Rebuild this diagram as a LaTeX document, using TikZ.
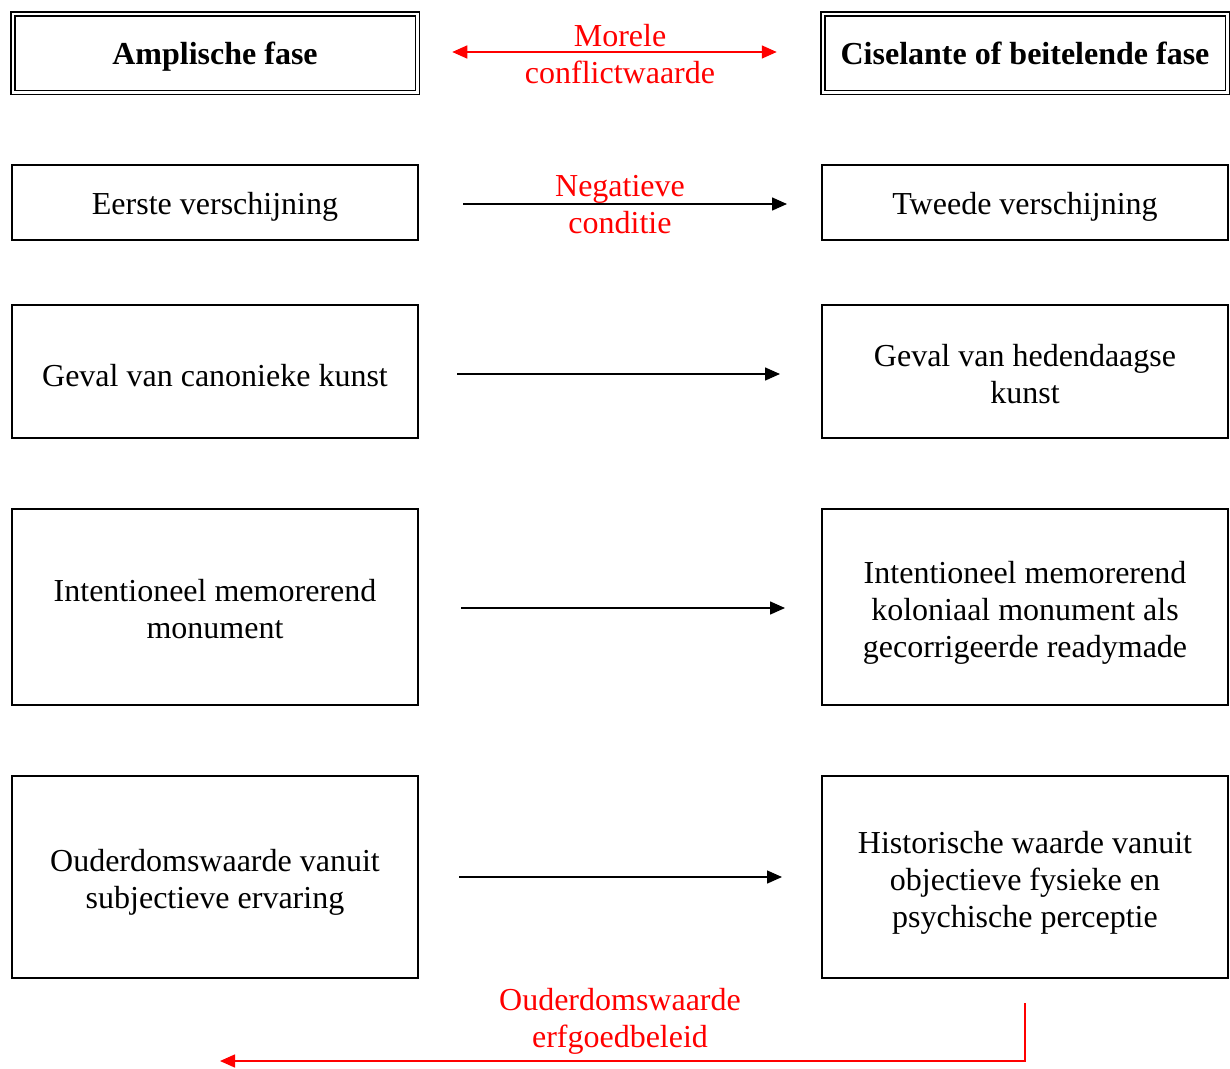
\documentclass[tikz,border=0pt]{standalone}
\usepackage{fontspec}
\setmainfont{Liberation Serif}
\usetikzlibrary{arrows.meta,calc}
\begin{document}
\begin{tikzpicture}[x=1pt,y=-1pt,
  box/.style={draw,line width=1.6pt,inner sep=0pt,outer sep=0pt,minimum width=406pt},
  hdr/.style={draw,line width=1.5pt,double,double distance=2.5pt,inner sep=0pt,outer sep=0pt,minimum width=404.5pt,minimum height=78.5pt},
  txt/.style={align=center,inner sep=0pt,font=\fontsize{32}{37}\selectfont,yshift=-4pt},
  txt3/.style={txt,yshift=-2pt},
  htxt/.style={txt,font=\fontsize{32}{37}\selectfont\bfseries},
  conn/.style={line width=1.5pt,-{Triangle[length=15pt,width=13pt]}},
  rconn/.style={conn,red},
  lbl/.style={text=red,align=center,font=\fontsize{32}{37}\selectfont,inner sep=0pt}]
\useasboundingbox[fill=white] (0,0) rectangle (1230,1068);

% header row
\node[hdr,label={[htxt]center:Amplische fase}] (h1) at (215,53) {};
\node[hdr,label={[htxt,yshift=4pt]center:Ciselante of beitelende fase}] (h2) at (1025,53) {};
\draw[rconn,{Triangle[length=15pt,width=13pt]}-{Triangle[length=15pt,width=13pt]}]
  ($(h1.east)+(35,-1)$) -- ($(h2.west)+(-46,-1)$);
\node[lbl] (m1) at (620,54) {Morele\\conflictwaarde};

% row 2
\node[box,minimum height=75pt,label={[txt]center:Eerste verschijning}] (l2) at (215,202.5) {};
\node[box,minimum height=75pt,label={[txt]center:Tweede verschijning}] (r2) at (1025,202.5) {};
\draw[conn] ($(l2.east)+(45,1.5)$) -- ($(r2.west)+(-35,1.5)$);
\node[lbl] (m2) at (620,205) {Negatieve\\conditie};

% row 3
\node[box,minimum height=133pt,label={[txt]center:Geval van canonieke kunst}] (l3) at (215,371.5) {};
\node[box,minimum height=133pt,label={[txt,yshift=1pt]center:Geval van hedendaagse\\kunst}] (r3) at (1025,371.5) {};
\draw[conn] ($(l3.east)+(39,2.5)$) -- ($(r3.west)+(-42,2.5)$);

% row 4
\node[box,minimum height=196pt,label={[txt,yshift=2pt]center:Intentioneel memorerend\\monument}] (l4) at (215,607) {};
\node[box,minimum height=196pt,label={[txt3]center:Intentioneel memorerend\\koloniaal monument als\\gecorrigeerde readymade}] (r4) at (1025,607) {};
\draw[conn] ($(l4.east)+(43,1)$) -- ($(r4.west)+(-37,1)$);

% row 5
\node[box,minimum height=202pt,label={[txt,yshift=-1pt]center:Ouderdomswaarde vanuit\\subjectieve ervaring}] (l5) at (215,877) {};
\node[box,minimum height=202pt,label={[txt3]center:Historische waarde vanuit\\objectieve fysieke en\\psychische perceptie}] (r5) at (1025,877) {};
\draw[conn] ($(l5.east)+(41,0)$) -- ($(r5.west)+(-40,0)$);

% bottom feedback arrow
\coordinate (oend) at (220,1061);
\draw[rconn] ($(r5.south)+(0,25)$) |- (oend);
\node[lbl] (m5) at (620,1021) {Ouderdomswaarde\\erfgoedbeleid};
\end{tikzpicture}
\end{document}
